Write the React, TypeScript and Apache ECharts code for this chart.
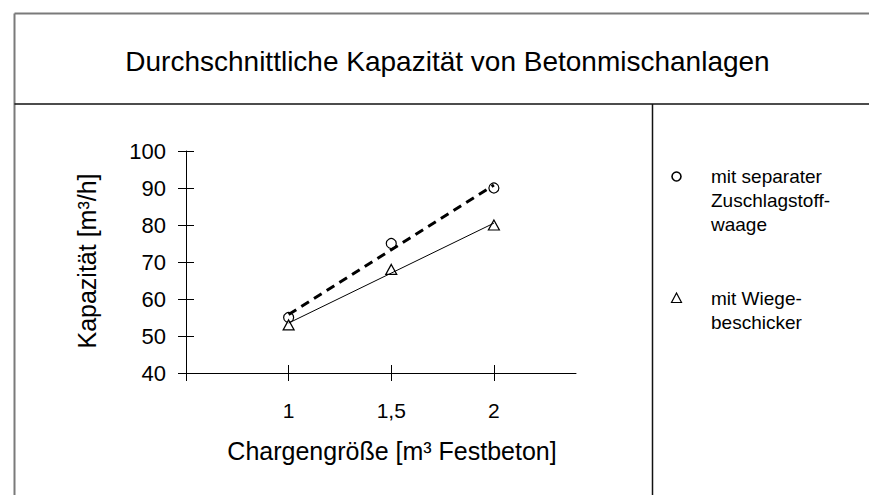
import React, { useEffect, useRef } from "react";
import * as echarts from "echarts";

const titleText = "Durchschnittliche Kapazität von Betonmischanlagen";
const xAxisTitle = "Chargengröße [m³ Festbeton]";
const yAxisTitle = "Kapazität [m³/h]";

const xValues = [1, 1.5, 2];
const xTickValues = [0.5, 1, 1.5, 2];
const xLabelValues = [1, 1.5, 2];

const circleValues = [55, 75, 90];
const triangleValues = [53, 68, 80];

// trend lines (start and end points)
const circleTrend = [
  [1, 55.8],
  [2, 90.8],
];
const triangleTrend = [
  [1, 53.5],
  [2, 80.5],
];

const legendCircleLines = ["mit separater", "Zuschlagstoff-", "waage"];
const legendTriangleLines = ["mit Wiege-", "beschicker"];

const FONT = "'Liberation Sans', Arial, Helvetica, sans-serif";

export default function App() {
  const ref = useRef<HTMLDivElement>(null);

  useEffect(() => {
    if (!ref.current) return;
    const chart = echarts.init(ref.current, undefined, { renderer: "svg" });

    const legendText = (lines: string[], y0: number) =>
      lines.map((t, i) => ({
        type: "text",
        x: 711,
        y: y0 + i * 24,
        style: {
          text: t,
          fontSize: 19,
          fontFamily: FONT,
          fill: "#000",
          align: "left",
          verticalAlign: "middle",
        },
      }));

    const option: any = {
      animation: false,
      backgroundColor: "#fff",
      grid: { left: 186, top: 151, width: 390, height: 222, containLabel: false },
      xAxis: [
        {
          type: "value",
          min: 0.5,
          max: 2.4,
          interval: 0.5,
          position: "bottom",
          axisLine: { show: true, lineStyle: { color: "#000", width: 1 } },
          axisTick: {
            show: true,
            length: 8,
            customValues: xTickValues,
            lineStyle: { color: "#000", width: 1 },
          },
          axisLabel: {
            customValues: xLabelValues,
            fontSize: 21,
            fontFamily: FONT,
            color: "#000",
            margin: 27,
            formatter: (v: number) => String(v).replace(".", ","),
          },
          splitLine: { show: false },
        },
        {
          type: "value",
          min: 0.5,
          max: 2.4,
          interval: 0.5,
          position: "bottom",
          axisLine: { show: false },
          axisTick: {
            show: true,
            inside: true,
            length: 8,
            customValues: xTickValues,
            lineStyle: { color: "#000", width: 1 },
          },
          axisLabel: { show: false },
          splitLine: { show: false },
        },
      ],
      yAxis: [
        {
          type: "value",
          min: 40,
          max: 100,
          interval: 10,
          position: "left",
          axisLine: { show: true, lineStyle: { color: "#000", width: 1 } },
          axisTick: { show: true, length: 8, lineStyle: { color: "#000", width: 1 } },
          axisLabel: {
            fontSize: 22,
            fontFamily: FONT,
            color: "#000",
            margin: 20,
          },
          splitLine: { show: false },
        },
        {
          type: "value",
          min: 40,
          max: 100,
          interval: 10,
          position: "left",
          axisLine: { show: false },
          axisTick: {
            show: true,
            inside: true,
            length: 8,
            lineStyle: { color: "#000", width: 1 },
          },
          axisLabel: { show: false },
          splitLine: { show: false },
        },
      ],
      series: [
        {
          type: "scatter",
          name: "circle",
          symbol: "circle",
          symbolSize: 10,
          z: 2,
          itemStyle: { color: "#fff", borderColor: "#000", borderWidth: 1.2, opacity: 1 },
          data: xValues.map((x, i) => [x, circleValues[i]]),
        },
        {
          type: "scatter",
          name: "triangle",
          symbol: "triangle",
          symbolSize: [11, 10],
          z: 2,
          itemStyle: { color: "#fff", borderColor: "#000", borderWidth: 1.2, opacity: 1 },
          data: xValues.map((x, i) => [x, triangleValues[i]]),
        },
        {
          type: "line",
          name: "circleTrend",
          symbol: "none",
          z: 3,
          lineStyle: { color: "#000", width: 3, type: [9, 6] },
          data: circleTrend,
        },
        {
          type: "line",
          name: "triangleTrend",
          symbol: "none",
          z: 3,
          lineStyle: { color: "#000", width: 1 },
          data: triangleTrend,
        },
      ],
      graphic: [
        { type: "line", shape: { x1: 14.5, y1: 13.5, x2: 869, y2: 13.5 }, style: { stroke: "#7a7a7a", lineWidth: 2 } },
        { type: "line", shape: { x1: 14.5, y1: 13.5, x2: 14.5, y2: 495 }, style: { stroke: "#7a7a7a", lineWidth: 2 } },
        { type: "line", shape: { x1: 14.5, y1: 104, x2: 869, y2: 104 }, style: { stroke: "#111", lineWidth: 1.5 } },
        { type: "line", shape: { x1: 652.5, y1: 104, x2: 652.5, y2: 495 }, style: { stroke: "#111", lineWidth: 1.5 } },
        {
          type: "text",
          x: 447.5,
          y: 61,
          style: { text: titleText, fontSize: 28, fontFamily: FONT, fill: "#000", align: "center", verticalAlign: "middle" },
        },
        {
          type: "text",
          x: 87,
          y: 261,
          rotation: Math.PI / 2,
          style: { text: yAxisTitle, fontSize: 25, fontFamily: FONT, fill: "#000", align: "center", verticalAlign: "middle" },
        },
        {
          type: "text",
          x: 392,
          y: 451,
          style: { text: xAxisTitle, fontSize: 25, fontFamily: FONT, fill: "#000", align: "center", verticalAlign: "middle" },
        },
        { type: "circle", shape: { cx: 676.5, cy: 176.5, r: 4.5 }, style: { fill: "none", stroke: "#000", lineWidth: 1.6 } },
        {
          type: "polygon",
          shape: { points: [[671.5, 302.5], [681.5, 302.5], [676.5, 293]] },
          style: { fill: "none", stroke: "#000", lineWidth: 1.2 },
        },
        ...legendText(legendCircleLines, 176),
        ...legendText(legendTriangleLines, 298),
      ],
    };

    chart.setOption(option);
    return () => chart.dispose();
  }, []);

  return (
    <div
      ref={ref}
      style={{ position: "absolute", left: 0, top: 0, width: 869, height: 495 }}
    />
  );
}
